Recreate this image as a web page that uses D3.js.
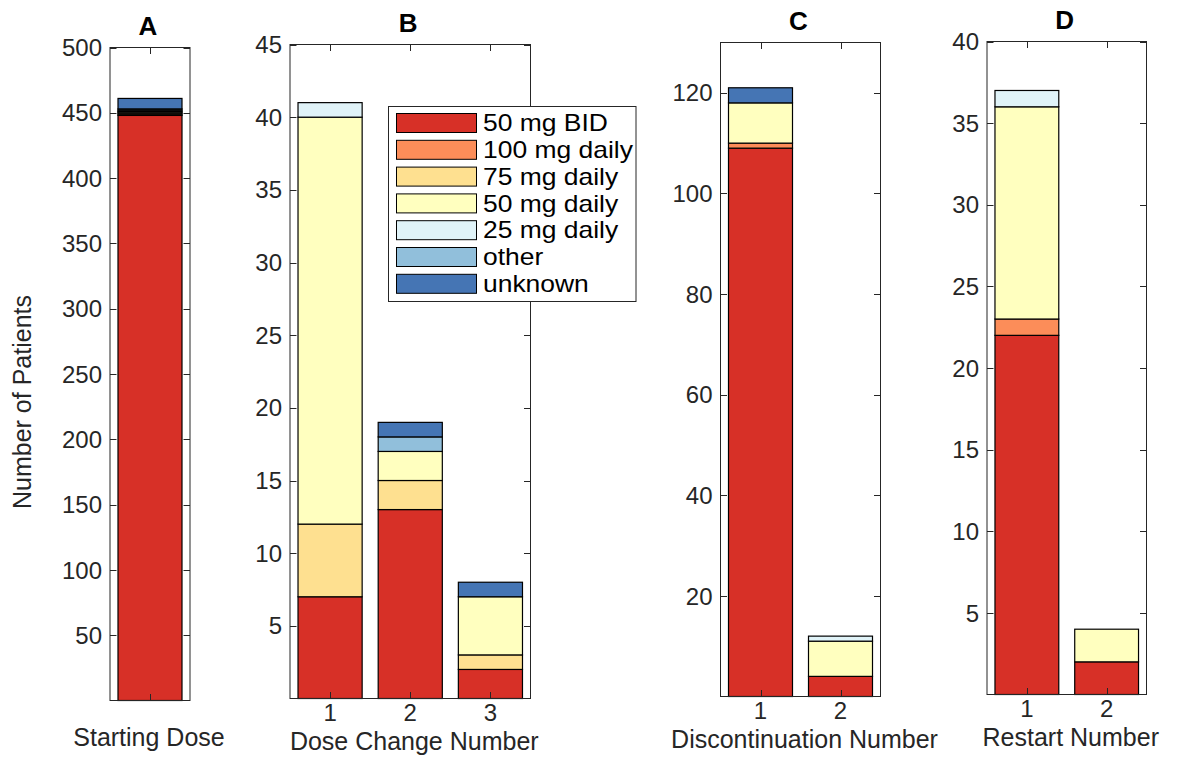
<!DOCTYPE html>
<html>
<head>
<meta charset="utf-8">
<script src="https://cdn.jsdelivr.net/npm/d3@7"></script>
<style>
  body { margin: 0; background: #fff; }
  svg { display: block; font-family: "Liberation Sans", Arial, sans-serif; }
</style>
</head>
<body>
<svg id="chart" width="1182" height="758"></svg>
<script>
// dose groups, bottom to top of each stack
var doseLevels = ['50 mg BID', '100 mg daily', '75 mg daily', '50 mg daily', '25 mg daily', 'other', 'unknown'];
var doseColors = ['#d73027', '#fc8d59', '#fee090', '#ffffbf', '#e0f3f8', '#91bfdb', '#4575b4'];

// patients per dose group, one row per bar
var startingDose = [[448, 1, 1, 1, 1, 1, 8]];
var doseChange = [[7, 0, 5, 28, 1, 0, 0], [13, 0, 2, 2, 0, 1, 1], [2, 0, 1, 4, 0, 0, 1]];
var discontinuation = [[109, 1, 0, 8, 0, 0, 3], [4, 0, 0, 7, 1, 0, 0]];
var restart = [[22, 1, 0, 13, 1, 0, 0], [2, 0, 0, 2, 0, 0, 0]];

// y ticks per panel
var ticksA = [50, 100, 150, 200, 250, 300, 350, 400, 450, 500];
var ticksB = [5, 10, 15, 20, 25, 30, 35, 40, 45];
var ticksC = [20, 40, 60, 80, 100, 120];
var ticksD = [5, 10, 15, 20, 25, 30, 35, 40];

var axisColor = '#262626';
var svg = d3.select('#chart');

//panel boxes (pixels) and limits
var panels = [
    {title: 'A', rows: startingDose, ticks: ticksA, yMax: 500, xlabel: 'Starting Dose', showX: false,
     left: 110, right: 190, top: 47.5, bottom: 700.5},
    {title: 'B', rows: doseChange, ticks: ticksB, yMax: 45, xlabel: 'Dose Change Number', showX: true,
     left: 290, right: 530.5, top: 44.5, bottom: 698.5},
    {title: 'C', rows: discontinuation, ticks: ticksC, yMax: 130, xlabel: 'Discontinuation Number', showX: true,
     left: 720.5, right: 880.5, top: 42.5, bottom: 696.5},
    {title: 'D', rows: restart, ticks: ticksD, yMax: 40, xlabel: 'Restart Number', showX: true,
     left: 987, right: 1146.5, top: 41.5, bottom: 694.5}
];

var tickLen = 6.5;

panels.forEach(function (p) {
    var n = p.rows.length;
    var x = d3.scaleLinear().domain([0.5, n + 0.5]).range([p.left, p.right]);
    var y = d3.scaleLinear().domain([0, p.yMax]).range([p.bottom, p.top]);
    var g = svg.append('g');
    var cats = d3.range(1, n + 1);

    //stacked bars
    p.rows.forEach(function (row, i) {
        var base = 0;
        row.forEach(function (v, k) {
            if (v > 0) {
                g.append('rect')
                    .attr('x', x(i + 1 - 0.4))
                    .attr('width', x(i + 1 + 0.4) - x(i + 1 - 0.4))
                    .attr('y', y(base + v))
                    .attr('height', y(base) - y(base + v))
                    .attr('fill', doseColors[k])
                    .attr('stroke', '#000')
                    .attr('stroke-width', 1.2);
            }
            base += v;
        });
    });

    //box
    g.append('rect')
        .attr('x', p.left).attr('y', p.top)
        .attr('width', p.right - p.left).attr('height', p.bottom - p.top)
        .attr('fill', 'none').attr('stroke', axisColor).attr('stroke-width', 1);

    //y ticks, both sides, inward
    p.ticks.forEach(function (t) {
        var yy = Math.round(y(t)) + 0.5;
        g.append('line').attr('x1', p.left).attr('x2', p.left + tickLen)
            .attr('y1', yy).attr('y2', yy).attr('stroke', axisColor);
        g.append('line').attr('x1', p.right).attr('x2', p.right - tickLen)
            .attr('y1', yy).attr('y2', yy).attr('stroke', axisColor);
        g.append('text')
            .attr('x', p.left - 8).attr('y', y(t))
            .attr('dy', '0.36em')
            .attr('text-anchor', 'end')
            .attr('font-size', 24)
            .attr('fill', axisColor)
            .text(t);
    });

    //x ticks, bottom and top
    cats.forEach(function (c) {
        var xx = Math.round(x(c)) + 0.5;
        g.append('line').attr('x1', xx).attr('x2', xx)
            .attr('y1', p.bottom).attr('y2', p.bottom - tickLen).attr('stroke', axisColor);
        g.append('line').attr('x1', xx).attr('x2', xx)
            .attr('y1', p.top).attr('y2', p.top + tickLen).attr('stroke', axisColor);
        if (p.showX) {
            g.append('text')
                .attr('x', x(c)).attr('y', p.bottom + 22)
                .attr('text-anchor', 'middle')
                .attr('font-size', 24)
                .attr('fill', axisColor)
                .text(c);
        }
    });

    g.append('text')
        .attr('x', (p.left + p.right) / 2 + (p.showX ? 4 : -1)).attr('y', p.showX ? p.bottom + 51 : p.bottom + 45)
        .attr('text-anchor', 'middle')
        .attr('font-size', 25)
        .attr('fill', axisColor)
        .text(p.xlabel);

    g.append('text')
        .attr('x', (p.left + p.right) / 2 - 2).attr('y', p.top - 13)
        .attr('text-anchor', 'middle')
        .attr('font-size', 26)
        .attr('font-weight', 'bold')
        .attr('fill', '#000')
        .text(p.title);
});

//y label
svg.append('text')
    .attr('transform', 'translate(31,402) rotate(-90)')
    .attr('text-anchor', 'middle')
    .attr('font-size', 25)
    .attr('fill', axisColor)
    .text('Number of Patients');

//legend
var lg = svg.append('g');
lg.append('rect')
    .attr('x', 388.5).attr('y', 106.5).attr('width', 247.5).attr('height', 195)
    .attr('fill', '#fff').attr('stroke', axisColor);
doseLevels.forEach(function (name, i) {
    var yy = 113.5 + i * 26.8;
    lg.append('rect')
        .attr('x', 396.5).attr('y', yy).attr('width', 80).attr('height', 19)
        .attr('fill', doseColors[i]).attr('stroke', '#000');
    lg.append('text')
        .attr('transform', 'translate(483,' + (yy + 9.5) + ') scale(1.15,1)')
        .attr('dy', '0.36em')
        .attr('font-size', 23)
        .attr('fill', '#000')
        .text(name);
});
</script>
</body>
</html>
